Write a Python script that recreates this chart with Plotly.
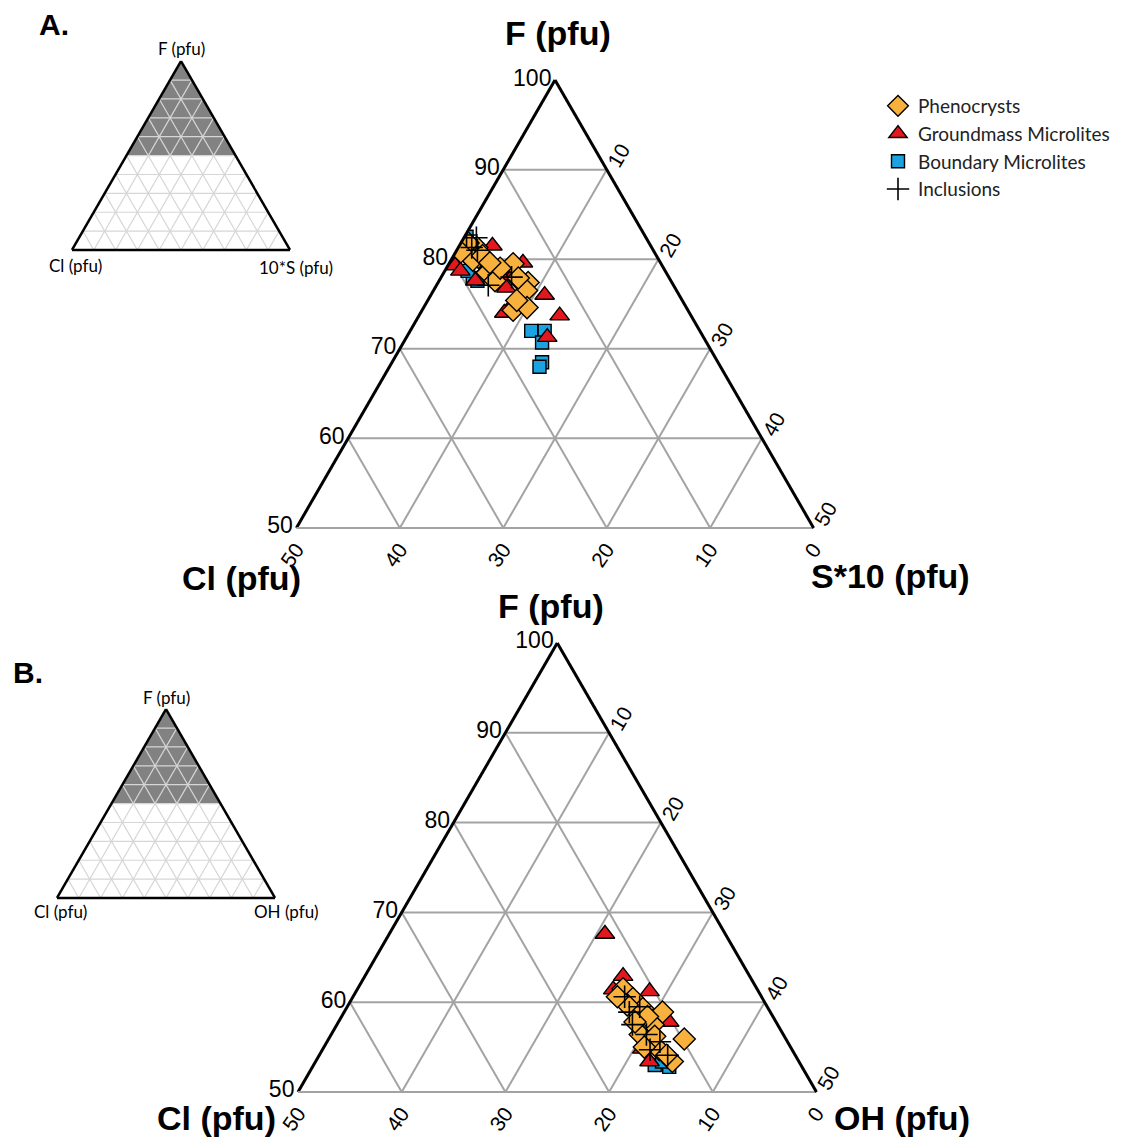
import plotly.graph_objects as go

W, H = 1148, 1141

# ---------------- Panel A: F - Cl - S*10 (pfu) ----------------
phen_A_F = [82.1, 80.8, 81.5, 81.3, 80.2, 79.9, 81.8, 80.4, 78.5, 77.6, 79.5,
            77.6, 77.4, 76.5, 74.3, 74.6, 75.4, 80.8, 79.0, 77.9, 79.6]
phen_A_Cl = [17.6, 18.3, 17.5, 16.9, 17.3, 18.0, 17.5, 16.8, 17.3, 17.0, 14.3,
             14.6, 13.9, 14.5, 16.9, 15.4, 16.0, 18.7, 15.8, 14.6, 16.5]
phen_A_S = [0.3, 0.9, 1.0, 1.8, 2.5, 2.1, 0.7, 2.8, 4.2, 5.4, 6.2,
            7.8, 8.7, 9.0, 8.8, 10.0, 8.6, 0.5, 5.2, 7.5, 3.9]

grnd_A_F = [81.5, 79.3, 79.6, 76.0, 73.7, 71.3, 74.8, 74.0, 76.8, 78.5, 78.7,
            78.5, 78.2, 78.7, 77.6]
grnd_A_Cl = [15.3, 20.0, 13.3, 13.0, 12.7, 15.1, 16.8, 17.9, 16.3, 17.7, 15.3,
             14.6, 16.2, 19.8, 18.9]
grnd_A_S = [3.2, 0.7, 7.1, 11.0, 13.6, 13.6, 8.4, 8.1, 6.9, 3.8, 6.0,
            6.9, 5.6, 1.5, 3.5]

bnd_A_F = [82.5, 81.9, 77.9, 77.6, 72.0, 72.0, 70.7, 68.5, 68.0, 78.7]
bnd_A_Cl = [17.3, 17.8, 19.0, 18.7, 16.3, 15.0, 15.9, 17.0, 17.5, 19.1]
bnd_A_S = [0.2, 0.3, 3.1, 3.7, 11.7, 13.0, 13.4, 14.5, 14.5, 2.2]

incl_A_F = [82.4, 81.3, 77.1, 78.0, 82.7, 81.0]
incl_A_Cl = [16.4, 17.4, 17.9, 15.2, 17.2, 17.0]
incl_A_S = [1.2, 1.3, 5.0, 6.8, 0.1, 2.0]

# ---------------- Panel B: F - Cl - OH (pfu) ----------------
phen_B_F = [61.5, 60.4, 59.3, 58.9, 57.5, 55.9, 53.4, 54.7, 54.1, 56.4, 59.7,
            60.6, 58.4, 57.8, 56.2, 55.0]
phen_B_Cl = [12.9, 12.5, 12.1, 10.4, 12.0, 9.8, 12.2, 12.8, 12.4, 13.8, 13.4,
             13.9, 12.1, 13.6, 12.5, 14.1]
phen_B_OH = [25.6, 27.1, 28.6, 30.7, 30.5, 34.3, 34.4, 32.5, 33.5, 29.8, 26.9,
             25.5, 29.5, 28.6, 31.3, 30.9]

grnd_B_F = [67.6, 62.9, 61.2, 57.8, 61.4, 60.1, 54.8, 53.4]
grnd_B_Cl = [11.6, 12.2, 10.5, 10.3, 13.9, 13.1, 14.4, 14.4]
grnd_B_OH = [20.8, 24.9, 28.3, 31.9, 24.7, 26.8, 30.8, 32.2]

bnd_B_F = [53.0, 52.8, 53.4]
bnd_B_Cl = [14.1, 12.8, 13.2]
bnd_B_OH = [32.9, 34.4, 33.4]

incl_B_F = [58.9, 56.4, 54.7, 54.1, 57.5, 60.6, 59.5, 55.6]
incl_B_Cl = [13.6, 13.2, 13.7, 12.3, 14.0, 13.2, 12.3, 12.3]
incl_B_OH = [27.5, 30.4, 31.6, 33.6, 28.5, 26.2, 28.2, 32.1]

# axis tick values
f_ticks = [50, 60, 70, 80, 90, 100]
b_ticks = [0, 10, 20, 30, 40, 50]
c_ticks = [10, 20, 30, 40, 50]

# inset schematic: shaded zoom window F >= 50 and a 10 % grid
zoom_a = [100, 50, 50, 100]
zoom_b = [0, 50, 0, 0]
zoom_c = [0, 0, 50, 0]
grid_steps = [10, 20, 30, 40, 50, 60, 70, 80, 90]

ORANGE = "#F9B13E"
RED = "#E3171E"
BLUE = "#1AA3E0"
EDGE = dict(color="black", width=1.4)
GRID = "#a3a3a3"

series = [
    # name, symbol, colour, size, legend rank, data A, data B
    ("Boundary Microlites", "square", BLUE, 13, 3,
     (bnd_A_F, bnd_A_Cl, bnd_A_S), (bnd_B_F, bnd_B_Cl, bnd_B_OH)),
    ("Groundmass Microlites", "triangle-up", RED, 17, 2,
     (grnd_A_F, grnd_A_Cl, grnd_A_S), (grnd_B_F, grnd_B_Cl, grnd_B_OH)),
    ("Phenocrysts", "diamond", ORANGE, 17, 1,
     (phen_A_F, phen_A_Cl, phen_A_S), (phen_B_F, phen_B_Cl, phen_B_OH)),
    ("Inclusions", "cross-thin", "black", 16, 4,
     (incl_A_F, incl_A_Cl, incl_A_S), (incl_B_F, incl_B_Cl, incl_B_OH)),
]

fig = go.Figure()

for name, sym, col, size, rank, dA, dB in series:
    if sym == "cross-thin":
        mk = dict(symbol=sym, size=size, line=dict(color="black", width=1.6))
    else:
        mk = dict(symbol=sym, size=size, color=col, line=EDGE)
    for sub, d, show in (("ternary", dA, True), ("ternary2", dB, False)):
        fig.add_trace(go.Scatterternary(
            a=d[0], b=d[1], c=d[2], mode="markers", name=name,
            legendgroup=name, legendrank=rank, showlegend=show,
            marker=mk, subplot=sub, hoverinfo="skip"))

# inset schematics
for sub in ("ternary3", "ternary4"):
    fig.add_trace(go.Scatterternary(
        a=zoom_a, b=zoom_b, c=zoom_c, mode="lines", fill="toself",
        fillcolor="#828282", line=dict(width=0), showlegend=False,
        subplot=sub, hoverinfo="skip"))
    ga, gb, gc = [], [], []
    for v in grid_steps:
        ga += [v, v, None, 0, 100 - v, None, 0, 100 - v, None]
        gb += [100 - v, 0, None, v, v, None, 100 - v, 0, None]
        gc += [0, 100 - v, None, 100 - v, 0, None, v, v, None]
    fig.add_trace(go.Scatterternary(
        a=ga, b=gb, c=gc, mode="lines", line=dict(color="#d6d6d6", width=1.2),
        showlegend=False, subplot=sub, hoverinfo="skip", connectgaps=False))

TICKFONT = dict(family="Liberation Sans, Arial", size=23, color="black")
NO_TITLE = dict(text="")


def main_ternary(xd, yd):
    return dict(
        domain=dict(x=xd, y=yd), sum=100, bgcolor="white",
        aaxis=dict(min=50, title=NO_TITLE, tickmode="array", tickvals=f_ticks,
                   ticks="", showline=True, linecolor="black", linewidth=3,
                   gridcolor=GRID, gridwidth=1.5, tickfont=TICKFONT),
        baxis=dict(min=0, title=NO_TITLE, tickmode="array", tickvals=b_ticks,
                   ticks="", showline=True, linecolor=GRID, linewidth=2,
                   gridcolor=GRID, gridwidth=1.5, tickangle=-55,
                   tickfont=dict(TICKFONT, size=21)),
        caxis=dict(min=0, title=NO_TITLE, tickmode="array", tickvals=c_ticks,
                   ticks="", showline=True, linecolor="black", linewidth=3,
                   gridcolor=GRID, gridwidth=1.5, tickangle=-60,
                   tickfont=dict(TICKFONT, size=21)),
    )


def inset_ternary(xd, yd):
    ax = dict(min=0, title=NO_TITLE, showgrid=False, showticklabels=False,
              ticks="", showline=True, linecolor="black", linewidth=2.5)
    return dict(domain=dict(x=xd, y=yd), sum=100, bgcolor="white",
                aaxis=ax, baxis=ax, caxis=ax)


def px(x):
    return x / W


def py(y):
    return 1 - y / H


fig.update_layout(
    width=W, height=H, margin=dict(l=0, r=0, t=0, b=0),
    paper_bgcolor="white", plot_bgcolor="white",
    ternary=main_ternary([px(296.4), px(813.6)], [py(528), py(80)]),
    ternary2=main_ternary([px(298), px(816.5)], [py(1092), py(643)]),
    ternary3=inset_ternary([px(72), px(290)], [py(250), py(61.2)]),
    ternary4=inset_ternary([px(57), px(275)], [py(898), py(709.2)]),
    legend=dict(x=px(878), y=py(87), xanchor="left", yanchor="top",
                font=dict(family="Lato, Noto Sans", size=19, color="#222222"),
                bgcolor="rgba(0,0,0,0)", tracegroupgap=0, itemwidth=30),
    showlegend=True,
)

BIG = dict(family="Liberation Sans, Arial", size=34, color="black")
SMALL = dict(family="Lato, Noto Sans", size=17, color="black")
notes = [
    ("<b>A.</b>", 54, 25, dict(BIG, size=30)),
    ("<b>B.</b>", 28, 672, dict(BIG, size=30)),
    ("<b>F (pfu)</b>", 558, 33, BIG),
    ("<b>Cl (pfu)</b>", 241, 578, BIG),
    ("<b>S*10 (pfu)</b>", 890, 576, BIG),
    ("<b>F (pfu)</b>", 551, 606, BIG),
    ("<b>Cl (pfu)</b>", 216, 1118, BIG),
    ("<b>OH (pfu)</b>", 902, 1118, BIG),
    ("F (pfu)", 181, 48, SMALL),
    ("Cl (pfu)", 75, 265, SMALL),
    ("10*S (pfu)", 296, 267, SMALL),
    ("F (pfu)", 166, 697, SMALL),
    ("Cl (pfu)", 60, 911, SMALL),
    ("OH (pfu)", 286, 911, SMALL),
]
for text, x, y, font in notes:
    fig.add_annotation(text=text, x=px(x), y=py(y), xref="paper", yref="paper",
                       xanchor="center", yanchor="middle", showarrow=False,
                       font=font)

fig.write_html("out.html")
